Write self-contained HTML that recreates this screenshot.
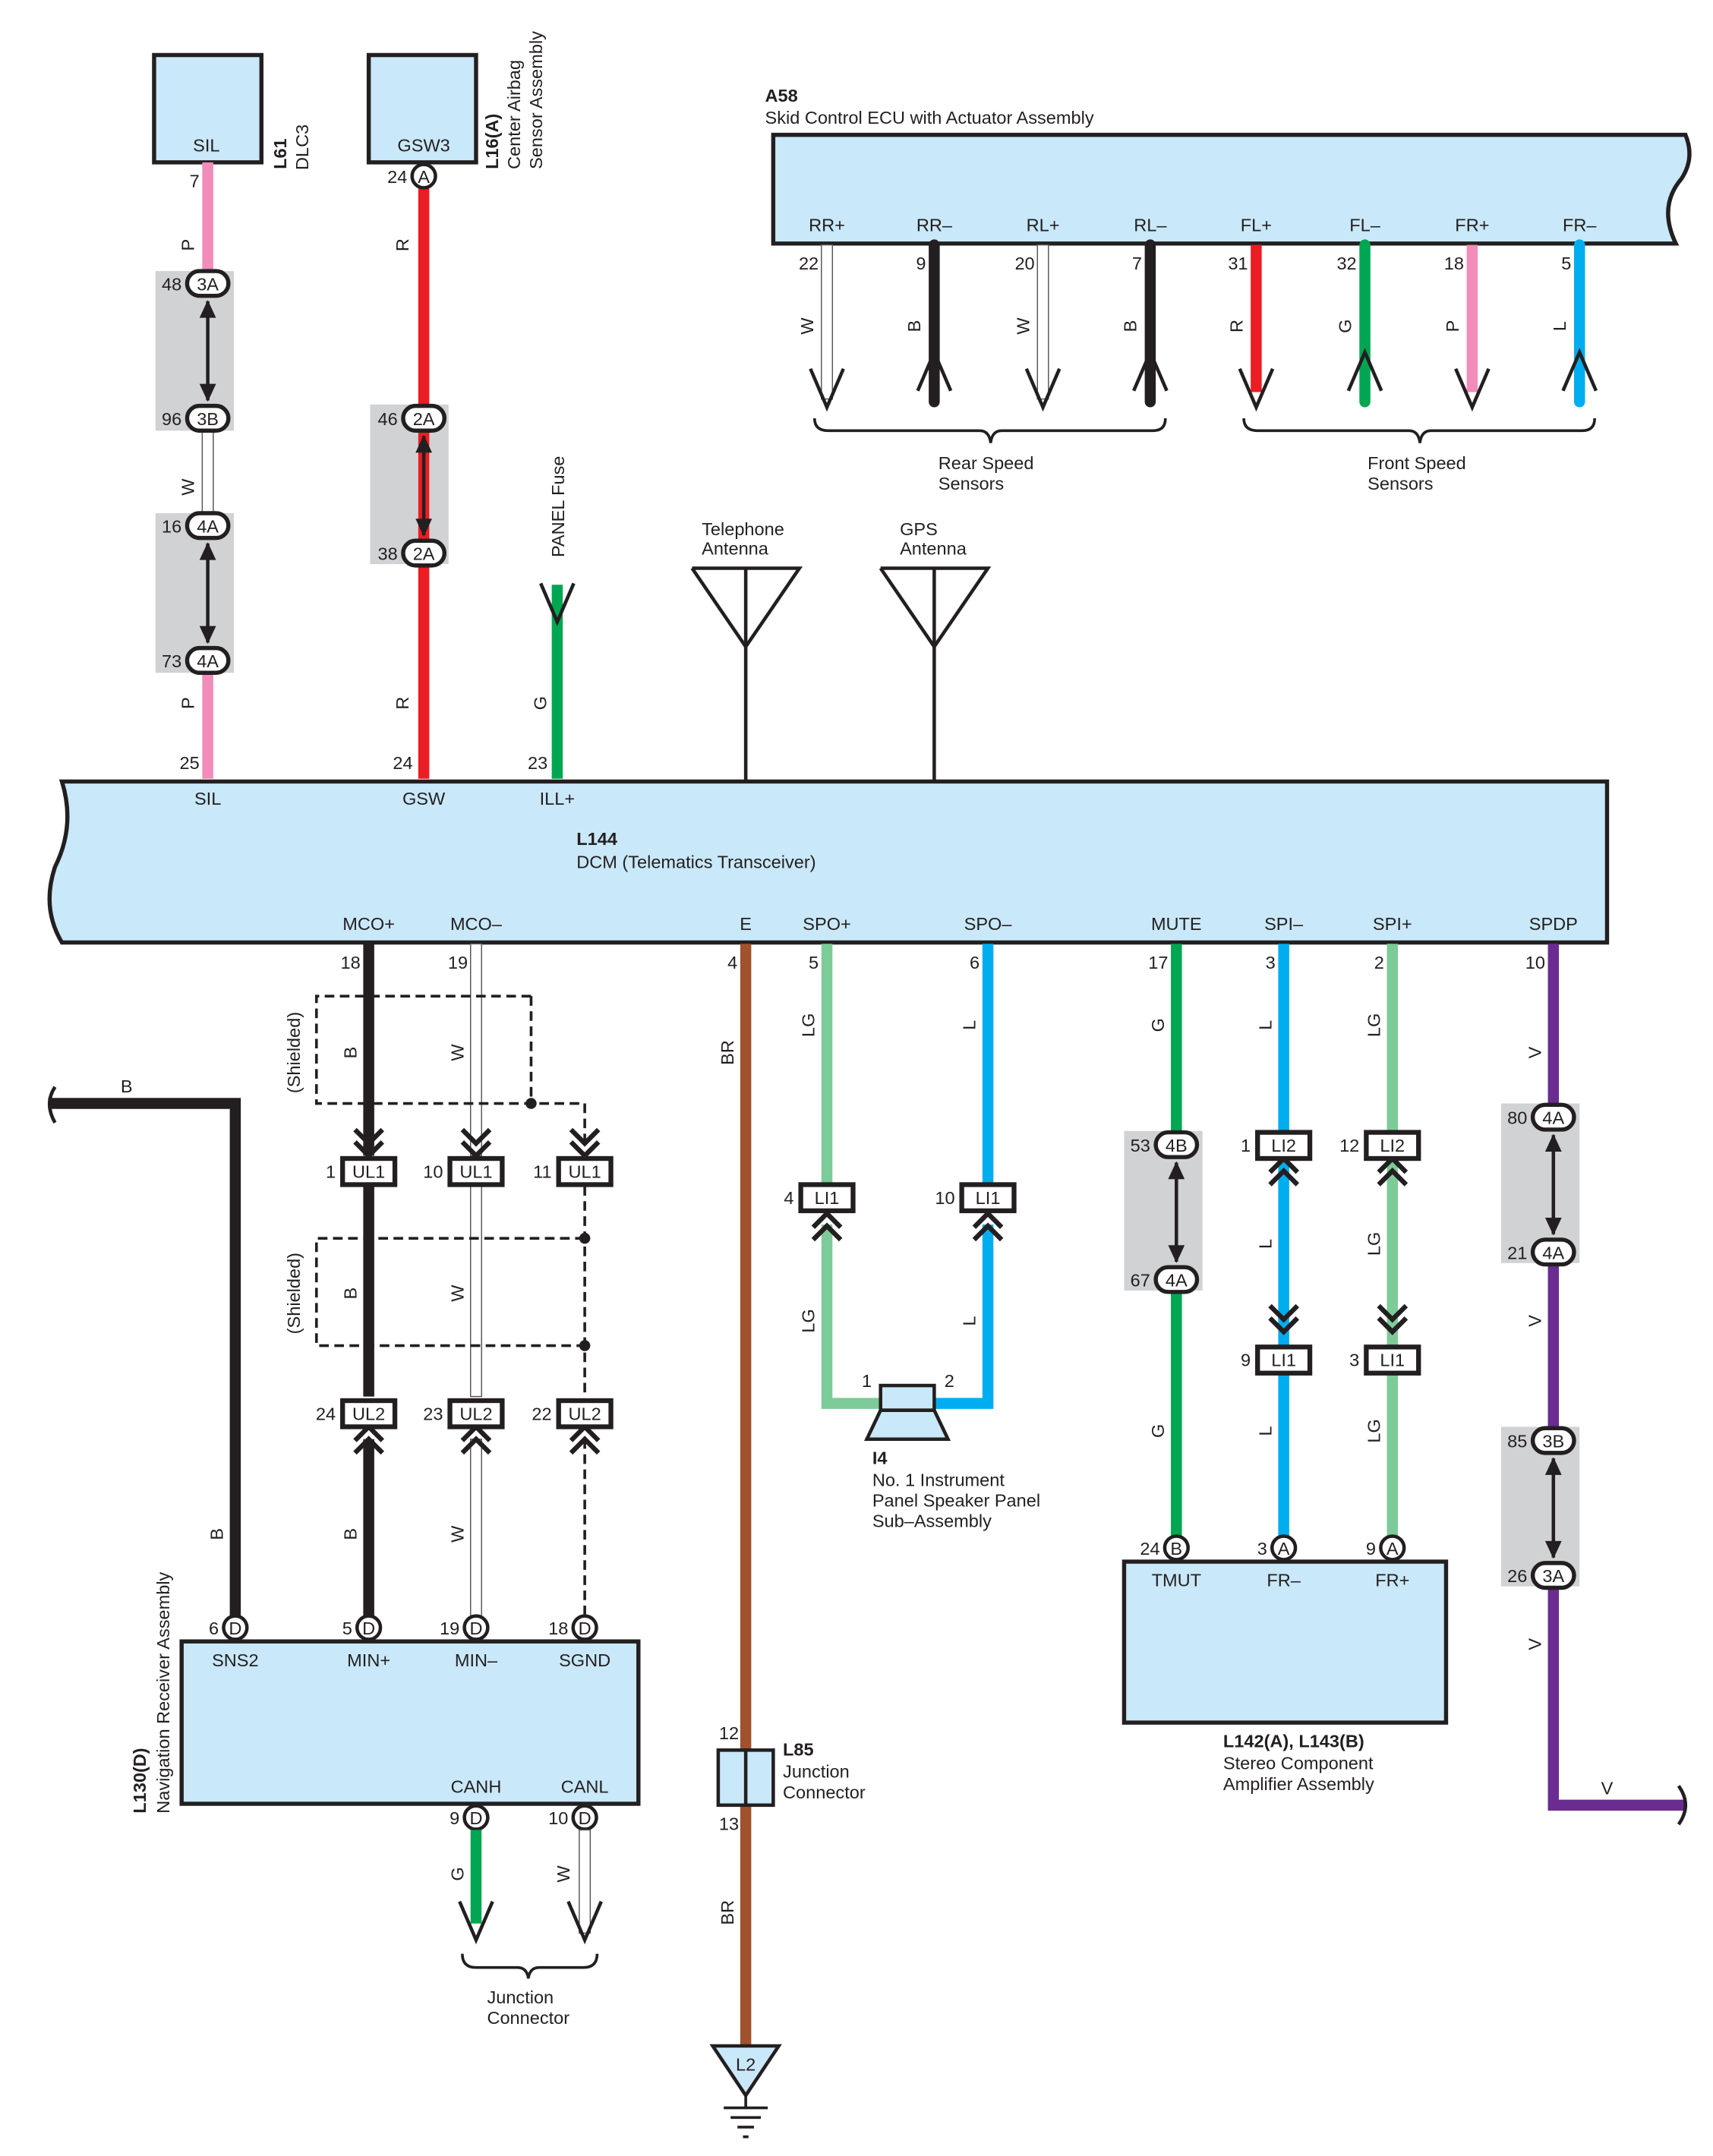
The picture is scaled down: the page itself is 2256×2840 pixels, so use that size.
<!DOCTYPE html>
<html><head><meta charset="utf-8">
<style>
html,body{margin:0;padding:0;background:#fff;}
svg{display:block;}
text{font-family:"Liberation Sans",Arial,sans-serif;font-size:13px;fill:#231f20;}
</style></head>
<body>
<svg id="s" xmlns="http://www.w3.org/2000/svg" width="2256" height="2840" viewBox="0 0 1245 1567" preserveAspectRatio="none"></svg>
<script>
var o='';
function t(x,y,s,a,r,extra){a=a||'start';o+='<text x="'+x+'" y="'+y+'" text-anchor="'+a+'"'+(r?' transform="rotate(-90 '+x+' '+y+')"':'')+(extra||'')+'>'+s+'</text>';}
function rot(x,y,s,a){t(x,y,s,a||'middle',1);}
function wire(x,y1,y2,c,w){w=w||8;
 if(c=='W'){o+='<rect x="'+(x-4)+'" y="'+y1+'" width="8" height="'+(y2-y1)+'" fill="#fff" stroke="#555" stroke-width="0.8"/>';}
 else o+='<line x1="'+x+'" y1="'+y1+'" x2="'+x+'" y2="'+y2+'" stroke="'+c+'" stroke-width="'+w+'"/>';}
function grey(x,y,w,h){o+='<rect x="'+x+'" y="'+y+'" width="'+w+'" height="'+h+'" fill="#d1d2d4"/>';}
function oval(x,y,l,n){o+='<rect x="'+(x-15)+'" y="'+(y-9)+'" width="30" height="18" rx="9" fill="#fff" stroke="#231f20" stroke-width="3"/>';t(x,y+5,l,'middle');if(n)t(x-19,y+5,n,'end');}
function circ(x,y,l,n){o+='<circle cx="'+x+'" cy="'+y+'" r="8.5" fill="#fff" stroke="#231f20" stroke-width="2.5"/>';t(x,y+5,l,'middle');if(n)t(x-12,y+5,n,'end');}
function conn(x,y,l,n){o+='<rect x="'+(x-19)+'" y="'+(y-9)+'" width="38" height="19" fill="#fff" stroke="#231f20" stroke-width="3.5"/>';t(x,y+5,l,'middle');if(n)t(x-24,y+5,n,'end');}
function chev(x,y,dir,dbl){
 var n=dbl?2:1;for(var i=0;i<n;i++){var yy=y-dir*i*9;o+='<polyline points="'+(x-10)+','+(yy-dir*10)+' '+x+','+yy+' '+(x+10)+','+(yy-dir*10)+'" fill="none" stroke="#231f20" stroke-width="3.5"/>';}}
function bigV(x,y,dir){o+='<polyline points="'+(x-12)+','+(y-dir*28)+' '+x+','+y+' '+(x+12)+','+(y-dir*28)+'" fill="none" stroke="#231f20" stroke-width="2.5"/>';}
function darrow(x,y1,y2){o+='<line x1="'+x+'" y1="'+(y1+4)+'" x2="'+x+'" y2="'+(y2-4)+'" stroke="#231f20" stroke-width="2.5"/>';
 o+='<polygon points="'+(x-6)+','+(y1+16)+' '+x+','+(y1+3)+' '+(x+6)+','+(y1+16)+'" fill="#231f20"/><polygon points="'+(x-6)+','+(y2-16)+' '+x+','+(y2-3)+' '+(x+6)+','+(y2-16)+'" fill="#231f20"/>';}
function box(x,y,w,h){o+='<rect x="'+x+'" y="'+y+'" width="'+w+'" height="'+h+'" fill="#c9e8f9" stroke="#231f20" stroke-width="3"/>';}
var K='#231f20',P='#f28cb8',R='#ec1c24',G='#00a651',LG='#7dcb98',L='#00aeef',BR='#a0522d',V='#6a2c91';

box(112,40,78,78);t(150,110,'SIL','middle');
box(268,40,78,78);t(308,110,'GSW3','middle');
o+='<text x="208" y="123" transform="rotate(-90 208 123)" style="font-weight:bold">L61</text>';rot(224,107,'DLC3');
o+='<text x="362" y="123" transform="rotate(-90 362 123)" style="font-weight:bold">L16(A)</text>';
t(378,123,'Center Airbag','start',1);t(394,123,'Sensor Assembly','start',1);

grey(113,197,57,116);grey(113,373,57,116);grey(269,294,57,116);
wire(151,118,197,P);wire(151,313,373,'W');wire(151,489,566,P);
t(145,136,'7','end');rot(141,178,'P');rot(141,354,'W');rot(141,511,'P');t(145,559,'25','end');
oval(151,206,'3A','48');oval(151,304,'3B','96');darrow(151,215,295);
oval(151,382,'4A','16');oval(151,480,'4A','73');darrow(151,391,471);
wire(308,137,566,R);circ(308,128,'A','24');rot(297,178,'R');rot(297,511,'R');t(300,559,'24','end');
oval(308,304,'2A','46');oval(308,402,'2A','38');darrow(308,313,393);
wire(405,425,566,G);bigV(405,452,1);rot(397,511,'G');t(398,559,'23','end');
t(410,405,'PANEL Fuse','start',1);
o+='<polyline points="503,413 581,413 542,470 503,413" fill="none" stroke="#231f20" stroke-width="2.5"/><line x1="542" y1="413" x2="542" y2="567" stroke="#231f20" stroke-width="2.5"/>';
o+='<polyline points="640,413 718,413 679,470 640,413" fill="none" stroke="#231f20" stroke-width="2.5"/><line x1="679" y1="413" x2="679" y2="567" stroke="#231f20" stroke-width="2.5"/>';
t(510,389,'Telephone');t(510,403,'Antenna');t(654,389,'GPS');t(654,403,'Antenna');

o+='<path d="M562,98 L1225,98 Q1232,115 1222,130 Q1205,150 1218,177 L562,177 Z" fill="#c9e8f9" stroke="#231f20" stroke-width="3"/>';
o+='<text x="556" y="74" style="font-weight:bold">A58</text>';t(556,90,'Skid Control ECU with Actuator Assembly');
var aw=[[601,'RR+','22','W',1],[679,'RR\u2013','9',K,-1],[758,'RL+','20','W',1],[836,'RL\u2013','7',K,-1],[913,'FL+','31',R,1],[992,'FL\u2013','32',G,-1],[1070,'FR+','18',P,1],[1148,'FR\u2013','5',L,-1]];
var cl={'W':'W'};cl[K]='B';cl[R]='R';cl[G]='G';cl[P]='P';cl[L]='L';
aw.forEach(function(a){t(a[0],168,a[1],'middle');t(a[0]-6,196,a[2],'end');rot(a[0]-10,237,cl[a[3]]);
 if(a[3]=='W'){wire(a[0],178,290,'W');} else {o+='<line x1="'+a[0]+'" y1="178" x2="'+a[0]+'" y2="'+(a[4]>0?285:292)+'" stroke="'+a[3]+'" stroke-width="8" stroke-linecap="'+(a[4]>0?'butt':'round')+'"/>';}
 if(a[4]>0)bigV(a[0],296,1);else bigV(a[0],256,-1);});
o+='<path d="M592,304 Q592,313 602,313 L712,313 Q719,313 720,322 Q721,313 728,313 L838,313 Q847,313 847,304" fill="none" stroke="#231f20" stroke-width="2"/>';
o+='<path d="M904,304 Q904,313 914,313 L1024,313 Q1031,313 1032,322 Q1033,313 1040,313 L1150,313 Q1159,313 1159,304" fill="none" stroke="#231f20" stroke-width="2"/>';
t(682,341,'Rear Speed');t(682,356,'Sensors');t(994,341,'Front Speed');t(994,356,'Sensors');

o+='<path d="M45,568 L1168,568 L1168,685 L45,685 Q30,660 40,630 Q55,600 45,568 Z" fill="#c9e8f9" stroke="#231f20" stroke-width="3"/>';
t(151,585,'SIL','middle');t(308,585,'GSW','middle');t(405,585,'ILL+','middle');
o+='<text x="419" y="614" style="font-weight:bold">L144</text>';t(419,631,'DCM (Telematics Transceiver)');
[[268,'MCO+','18'],[346,'MCO\u2013','19'],[542,'E','4'],[601,'SPO+','5'],[718,'SPO\u2013','6'],[855,'MUTE','17'],[933,'SPI\u2013','3'],[1012,'SPI+','2'],[1129,'SPDP','10']].forEach(function(a){t(a[0],676,a[1],'middle');t(a[0]-6,704,a[2],'end');});

o+='<path d="M35,802 L171,802 L171,1175" fill="none" stroke="#231f20" stroke-width="8"/>';
o+='<path d="M40,790 Q32,802 40,816" fill="none" stroke="#231f20" stroke-width="2.5"/>';
t(92,794,'B','middle');rot(162,1115,'B');
wire(268,686,840,K);wire(268,862,1015,K);wire(268,1046,1175,K);
wire(346,686,840,'W');wire(346,862,1015,'W');wire(346,1046,1175,'W');
var dsh=' fill="none" stroke="#231f20" stroke-width="2" stroke-dasharray="7,4"';
o+='<path d="M386,724 L230,724 L230,802 L425,802 L425,835"'+dsh+'/><line x1="386" y1="724" x2="386" y2="802"'+dsh+'/><circle cx="386" cy="802" r="4" fill="#231f20"/>';
o+='<path d="M425,862 L425,1015 M425,900 L230,900 L230,978 L425,978 M425,1046 L425,1175"'+dsh+'/><circle cx="425" cy="900" r="4" fill="#231f20"/><circle cx="425" cy="978" r="4" fill="#231f20"/>';
rot(218,765,'(Shielded)');rot(218,940,'(Shielded)');
rot(259,765,'B');rot(337,765,'W');rot(259,940,'B');rot(337,940,'W');rot(259,1115,'B');rot(337,1115,'W');
[268,346,425].forEach(function(x){chev(x,840,1,1);chev(x,1037,-1,1);});
conn(268,851,'UL1','1');conn(346,851,'UL1','10');conn(425,851,'UL1','11');
conn(268,1027,'UL2','24');conn(346,1027,'UL2','23');conn(425,1027,'UL2','22');
box(132,1193,332,118);
circ(171,1183,'D','6');circ(268,1183,'D','5');circ(346,1183,'D','19');circ(425,1183,'D','18');
t(171,1211,'SNS2','middle');t(268,1211,'MIN+','middle');t(346,1211,'MIN\u2013','middle');t(425,1211,'SGND','middle');
t(346,1303,'CANH','middle');t(425,1303,'CANL','middle');
o+='<text x="106" y="1318" transform="rotate(-90 106 1318)" style="font-weight:bold">L130(D)</text>';t(123,1318,'Navigation Receiver Assembly','start',1);
circ(346,1321,'D','9');circ(425,1321,'D','10');
wire(346,1330,1398,G);bigV(346,1410,1);wire(425,1330,1405,'W');bigV(425,1410,1);rot(337,1362,'G');rot(414,1362,'W');
o+='<path d="M336,1420 Q336,1430 346,1430 L376,1430 Q383,1430 384,1438 Q385,1430 392,1430 L424,1430 Q434,1430 434,1420" fill="none" stroke="#231f20" stroke-width="2"/>';
t(354,1456,'Junction');t(354,1471,'Connector');

wire(542,686,1490,BR);rot(533,765,'BR');rot(533,1390,'BR');
o+='<rect x="522" y="1272" width="40" height="40" fill="#c9e8f9" stroke="#231f20" stroke-width="2.5"/><line x1="542" y1="1272" x2="542" y2="1312" stroke="#231f20" stroke-width="2.5"/>';
t(537,1264,'12','end');t(537,1330,'13','end');
o+='<text x="569" y="1276" style="font-weight:bold">L85</text>';t(569,1292,'Junction');t(569,1307,'Connector');
o+='<polygon points="518,1487 566,1487 542,1523" fill="#c9e8f9" stroke="#231f20" stroke-width="2.5"/>';t(542,1505,'L2','middle');
o+='<path d="M542,1523 L542,1532 M526,1532 L558,1532 M531,1539 L553,1539 M536,1546 L548,1546 M540,1553 L544,1553" stroke="#231f20" stroke-width="2"/>';

o+='<path d="M601,686 L601,860 M601,890 L601,1020 L640,1020" fill="none" stroke="'+LG+'" stroke-width="8"/>';
o+='<path d="M718,686 L718,860 M718,890 L718,1020 L679,1020" fill="none" stroke="'+L+'" stroke-width="8"/>';
chev(601,882,-1,1);chev(718,882,-1,1);
conn(601,870,'LI1','4');conn(718,870,'LI1','10');
rot(592,745,'LG');rot(709,745,'L');rot(592,960,'LG');rot(709,960,'L');
o+='<rect x="640" y="1007" width="39" height="18" fill="#c9e8f9" stroke="#231f20" stroke-width="2.5"/><polygon points="640,1025 679,1025 689,1046 630,1046" fill="#c9e8f9" stroke="#231f20" stroke-width="2.5"/>';
t(630,1008,'1','middle');t(690,1008,'2','middle');
o+='<text x="634" y="1064" style="font-weight:bold">I4</text>';t(634,1080,'No.  1 Instrument');t(634,1095,'Panel Speaker Panel');t(634,1110,'Sub\u2013Assembly');

grey(817,822,57,116);
wire(855,686,822,G);wire(855,940,1116,G);oval(855,832,'4B','53');oval(855,930,'4A','67');darrow(855,841,921);
rot(846,745,'G');rot(846,1040,'G');
wire(933,686,822,L);wire(933,842,978,L);wire(933,998,1116,L);
wire(1012,686,822,LG);wire(1012,842,978,LG);wire(1012,998,1116,LG);
chev(933,842,-1,1);chev(1012,842,-1,1);chev(933,968,1,1);chev(1012,968,1,1);
conn(933,832,'LI2','1');conn(1012,832,'LI2','12');conn(933,988,'LI1','9');conn(1012,988,'LI1','3');
rot(924,745,'L');rot(924,904,'L');rot(924,1040,'L');rot(1003,745,'LG');rot(1003,904,'LG');rot(1003,1040,'LG');
box(817,1135,234,117);
circ(855,1125,'B','24');circ(933,1125,'A','3');circ(1012,1125,'A','9');
t(855,1153,'TMUT','middle');t(933,1153,'FR\u2013','middle');t(1012,1153,'FR+','middle');
o+='<text x="889" y="1270" style="font-weight:bold">L142(A), L143(B)</text>';t(889,1286,'Stereo Component');t(889,1301,'Amplifier Assembly');

grey(1091,802,57,116);grey(1091,1037,57,116);
o+='<path d="M1129,686 L1129,802 M1129,920 L1129,1037 M1129,1155 L1129,1312 L1225,1312" fill="none" stroke="'+V+'" stroke-width="8"/>';
o+='<path d="M1220,1298 Q1230,1312 1220,1326" fill="none" stroke="#231f20" stroke-width="2.5"/>';
oval(1129,812,'4A','80');oval(1129,910,'4A','21');darrow(1129,821,901);
oval(1129,1047,'3B','85');oval(1129,1145,'3A','26');darrow(1129,1056,1136);
rot(1120,765,'V');rot(1120,960,'V');rot(1120,1195,'V');t(1168,1304,'V','middle');

document.getElementById('s').innerHTML=o;
</script>
</body></html>
